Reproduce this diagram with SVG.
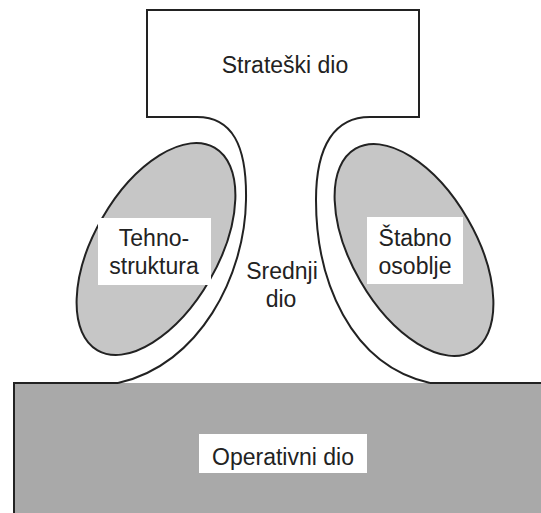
<svg xmlns="http://www.w3.org/2000/svg" width="541" height="513" viewBox="0 0 541 513">
<style>
.ln{fill:none;stroke:#222;stroke-width:2}
.lbl{font-family:"Liberation Sans",Arial,sans-serif;font-size:23px;fill:#222;text-anchor:middle}
.pad{fill:#fff}
.ell{fill:#c6c6c6;stroke:#222;stroke-width:2}
</style>
<rect x="0" y="0" width="541" height="513" fill="#fff"/>
<g id="operativni">
<rect x="14" y="383" width="530" height="135" fill="#a9a9a9"/>
<path class="ln" d="M118,383 H14 V515" stroke-width="3"/>
<path class="ln" d="M430,383 H543" stroke-width="3"/>
<rect class="pad" x="199" y="434" width="168" height="39"/>
<text class="lbl" x="283" y="465">Operativni dio</text>
</g>
<g id="strateski">
<path class="ln" d="M197,117 H147 V10 H419 V117 H370"/>
<text class="lbl" x="285" y="73">Strateški dio</text>
</g>
<g id="connectors">
<path class="ln" d="M197,117 C232,117 247,145 246,200 C245,275 200,365 118,383"/>
<path class="ln" d="M370,117 C335,117 316,145 316,200 C316,280 350,365 430,383"/>
</g>
<g id="srednji">
<text class="lbl" x="282" y="279">Srednji</text>
<text class="lbl" x="281" y="307">dio</text>
</g>
<g id="tehnostruktura">
<ellipse class="ell" cx="156" cy="249" rx="62" ry="117" transform="rotate(30 156 249)"/>
<rect class="pad" x="98" y="218" width="113" height="67"/>
<text class="lbl" x="154" y="246">Tehno-</text>
<text class="lbl" x="154" y="274">struktura</text>
</g>
<g id="stabno">
<ellipse class="ell" cx="414" cy="250" rx="62" ry="117" transform="rotate(-30 414 250)"/>
<rect class="pad" x="367" y="217" width="96" height="67"/>
<text class="lbl" x="415" y="246">Štabno</text>
<text class="lbl" x="415" y="274">osoblje</text>
</g>
</svg>
